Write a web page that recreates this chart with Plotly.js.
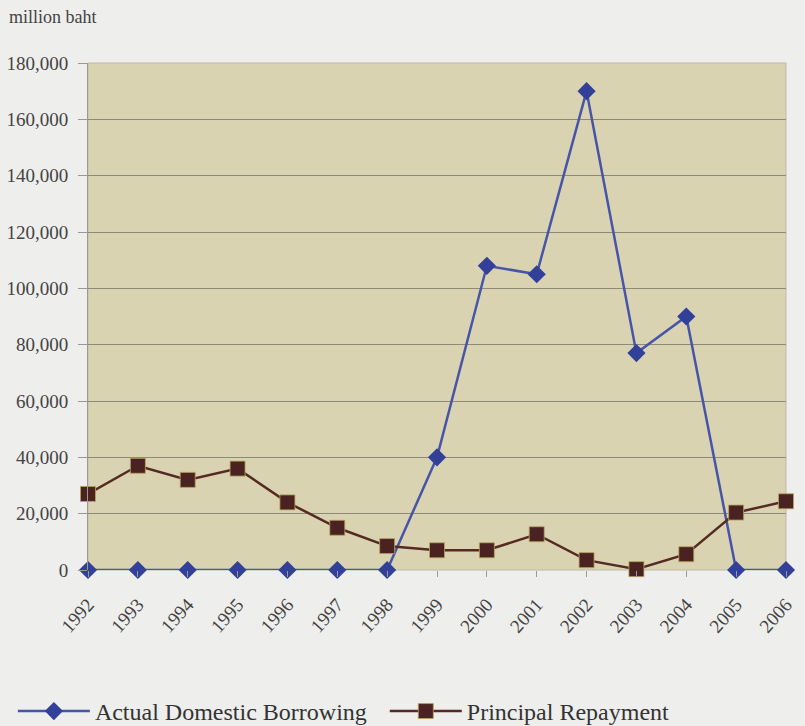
<!DOCTYPE html>
<html>
<head>
<meta charset="utf-8">
<script src="https://cdn.plot.ly/plotly-3.0.1.min.js"></script>
<style>html,body{margin:0;padding:0;background:#eeeeec;}#chart{width:805px;height:726px;}</style>
</head>
<body>
<div id="chart"></div>
<script>
const years = ['1992','1993','1994','1995','1996','1997','1998','1999','2000','2001','2002','2003','2004','2005','2006'];
const borrowing = [0,0,0,0,0,0,0,40000,108000,105000,170000,77000,90000,0,0];
const repayment = [27000,37000,32000,36000,24000,15000,8500,7000,7000,12700,3500,300,5600,20400,24400];
const yTicks = [0,20000,40000,60000,80000,100000,120000,140000,160000,180000];

const font = '"Liberation Serif", "Times New Roman", serif';
const traces = [
  {x: years, y: borrowing, name: 'Actual Domestic Borrowing', type: 'scatter', mode: 'lines+markers', legend: 'legend',
   line: {color: '#4655a8', width: 2.5}, marker: {symbol: 'diamond', size: 14, color: '#33409a'}, cliponaxis: false},
  {x: years, y: repayment, name: 'Principal Repayment', type: 'scatter', mode: 'lines+markers', legend: 'legend2',
   line: {color: '#552a22', width: 2.5}, marker: {symbol: 'square', size: 15, color: '#4a2222', line: {color: '#b7a55a', width: 0.8}}, cliponaxis: false}
];
const legendBase = {orientation: 'h', xref: 'container', yref: 'container', xanchor: 'left', y: 0.02, yanchor: 'middle', itemwidth: 72,
  font: {family: font, size: 24, color: '#333'}, bgcolor: 'rgba(0,0,0,0)'};
const layout = {
  width: 805, height: 726,
  margin: {l: 88, r: 19, t: 63, b: 156},
  paper_bgcolor: '#eeeeec', plot_bgcolor: '#d9d3b1',
  font: {family: font, size: 19, color: '#444444'},
  showlegend: true,
  xaxis: {type: 'category', range: [0, 14], tickangle: -48, ticks: 'outside', ticklen: 6, tickcolor: '#999999', automargin: false,
    ticklabelstandoff: 9,
    showgrid: false, showline: false, zeroline: false, tickfont: {family: font, size: 19, color: '#444'}},
  yaxis: {range: [0, 180000], tickvals: yTicks, tickformat: ',', ticks: 'outside', ticklen: 9, tickcolor: '#999999', automargin: false,
    ticklabelstandoff: 6,
    showgrid: true, gridcolor: '#8e8a78', gridwidth: 1, showline: true, linecolor: '#9a9a90', linewidth: 1, zeroline: false,
    tickfont: {family: font, size: 19, color: '#444'}},
  legend: Object.assign({}, legendBase, {x: 0.016}),
  legend2: Object.assign({}, legendBase, {x: 0.478}),
  annotations: [{text: 'million baht', xref: 'paper', yref: 'paper', x: -0.116, y: 1.09, xanchor: 'left', yanchor: 'middle',
    showarrow: false, font: {family: font, size: 18, color: '#444'}}],
  shapes: [{type: 'rect', xref: 'paper', yref: 'paper', x0: 0, x1: 1, y0: 0, y1: 1, line: {color: '#bdb9a8', width: 1}, layer: 'below'}]
};
Plotly.newPlot('chart', traces, layout, {displayModeBar: false, staticPlot: true});
</script>
</body>
</html>
